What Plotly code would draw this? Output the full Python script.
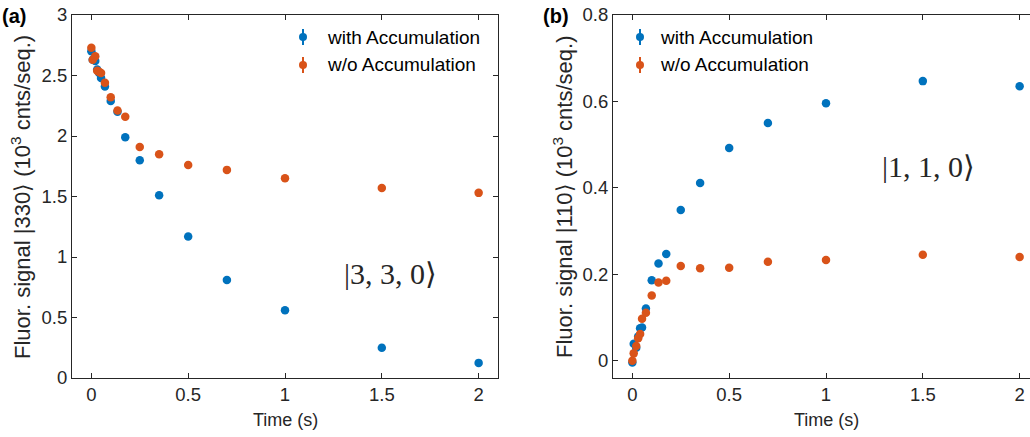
import plotly.graph_objects as go

# Sampling times (s)
time = [0, 0.007, 0.02, 0.03, 0.04, 0.05, 0.07, 0.1, 0.135, 0.175,
        0.25, 0.35, 0.5, 0.7, 1.0, 1.5, 2.0]

# (a) fluorescence of |3,3,0>  (10^3 counts / sequence)
a_with = [2.70, 2.63, 2.62, 2.55, 2.52, 2.48, 2.41, 2.29, 2.20, 1.99,
          1.80, 1.51, 1.17, 0.81, 0.56, 0.25, 0.125]
a_wo = [2.73, 2.63, 2.66, 2.54, 2.53, 2.52, 2.44, 2.32, 2.21, 2.16,
        1.91, 1.85, 1.76, 1.72, 1.65, 1.57, 1.53]

# (b) fluorescence of |1,1,0>
b_with = [-0.004, 0.039, 0.030, 0.056, 0.075, 0.077, 0.121, 0.186, 0.225, 0.247,
          0.349, 0.411, 0.492, 0.550, 0.596, 0.647, 0.635]
b_wo = [0.000, 0.017, 0.034, 0.052, 0.062, 0.097, 0.111, 0.151, 0.181, 0.185,
        0.219, 0.214, 0.215, 0.229, 0.233, 0.245, 0.240]

series_names = ["with Accumulation", "w/o Accumulation"]
BLUE = "#0072BD"
ORANGE = "#D95319"
AXC = "#262626"
FONT = "Liberation Sans, Arial, Helvetica, sans-serif"
SERIF = "Liberation Serif, DejaVu Serif, serif"

W, H = 1030, 437

def px(x):
    return x / W

def py(y):
    return 1 - y / H

fig = go.Figure()

for xa, ya, ys in [("x", "y", (a_with, a_wo)), ("x2", "y2", (b_with, b_wo))]:
    for vals, col, name in zip(ys, (BLUE, ORANGE), series_names):
        fig.add_trace(go.Scatter(
            x=time, y=vals, mode="markers", name=name, showlegend=False,
            marker=dict(color=col, size=8.5, line=dict(width=0)),
            xaxis=xa, yaxis=ya, cliponaxis=False,
        ))

axis_common = dict(
    showgrid=False, zeroline=False, showline=True, linecolor=AXC, linewidth=1,
    ticks="inside", ticklen=5, tickwidth=1, tickcolor=AXC, automargin=False,
    tickfont=dict(family=FONT, size=18.5, color=AXC),
)

xa_dom = [px(72), px(498)]
xb_dom = [px(613), 1.0]
y_dom = [py(378), py(15)]

fig.update_layout(
    width=W, height=H, margin=dict(l=0, r=0, t=0, b=0, autoexpand=False),
    paper_bgcolor="white", plot_bgcolor="white", showlegend=False,
    xaxis=dict(domain=xa_dom, range=[-0.1, 2.1], tickvals=[0, 0.5, 1, 1.5, 2],
               ticktext=["0", "0.5", "1", "1.5", "2"], mirror="ticks", anchor="y",
               **axis_common),
    yaxis=dict(domain=y_dom, range=[0, 3], tickvals=[0, 0.5, 1, 1.5, 2, 2.5, 3],
               ticktext=["0", "0.5", "1", "1.5", "2", "2.5", "3"], mirror="ticks",
               anchor="x", **axis_common),
    xaxis2=dict(domain=xb_dom, range=[-0.1, -0.1 + (1030 - 613) / ((498 - 72) / 2.2)],
                tickvals=[0, 0.5, 1, 1.5, 2], ticktext=["0", "0.5", "1", "1.5", "2"],
                mirror="ticks", anchor="y2", **axis_common),
    yaxis2=dict(domain=y_dom, range=[-0.04, 0.8], tickvals=[0, 0.2, 0.4, 0.6, 0.8],
                ticktext=["0", "0.2", "0.4", "0.6", "0.8"], mirror=False,
                anchor="x2", **axis_common),
)

annotations = []
shapes = []

# panel letters
for txt, x in [("(a)", 0), ("(b)", 541)]:
    annotations.append(dict(text=f"<b>{txt}</b>", x=px(x), y=py(16), xref="paper", yref="paper",
                            xanchor="left", yanchor="middle", showarrow=False,
                            font=dict(family=FONT, size=20, color="black")))

# axis titles
for cx in (285, 826):
    annotations.append(dict(text="Time (s)", x=px(cx), y=py(420), xref="paper", yref="paper",
                            xanchor="center", yanchor="middle", showarrow=False,
                            font=dict(family=FONT, size=18, color=AXC)))
for cx, st in [(21, "330"), (563, "110")]:
    annotations.append(dict(text=f"Fluor. signal |{st}\u27e9 (10<sup>3</sup> cnts/seq.)",
                            x=px(cx), y=py(197), xref="paper", yref="paper",
                            xanchor="center", yanchor="middle", textangle=-90, showarrow=False,
                            font=dict(family=FONT, size=22, color=AXC)))

# state labels
for cx, cy, st in [(390, 273, "|3, 3, 0\u27e9"), (928, 166, "|1, 1, 0\u27e9")]:
    annotations.append(dict(text=st, x=px(cx), y=py(cy), xref="paper", yref="paper",
                            xanchor="center", yanchor="middle", showarrow=False,
                            font=dict(family=SERIF, size=30, color=AXC)))

# legends: marker with error bar glyph + label
for lx, tx in [(303, 325), (640, 658)]:
    for ly, col, name in [(37, BLUE, series_names[0]), (65, ORANGE, series_names[1])]:
        shapes.append(dict(type="line", xref="paper", yref="paper",
                           x0=px(lx), x1=px(lx), y0=py(ly - 8), y1=py(ly + 8),
                           line=dict(color=col, width=2)))
        shapes.append(dict(type="circle", xref="paper", yref="paper",
                           x0=px(lx - 4), x1=px(lx + 4), y0=py(ly + 4), y1=py(ly - 4),
                           fillcolor=col, line=dict(width=0)))
        annotations.append(dict(text=name, x=px(tx), y=py(ly), xref="paper", yref="paper",
                                xanchor="left", yanchor="middle", showarrow=False,
                                font=dict(family=FONT, size=19, color="black")))

fig.update_layout(annotations=annotations, shapes=shapes)
fig.write_html("out.html")
